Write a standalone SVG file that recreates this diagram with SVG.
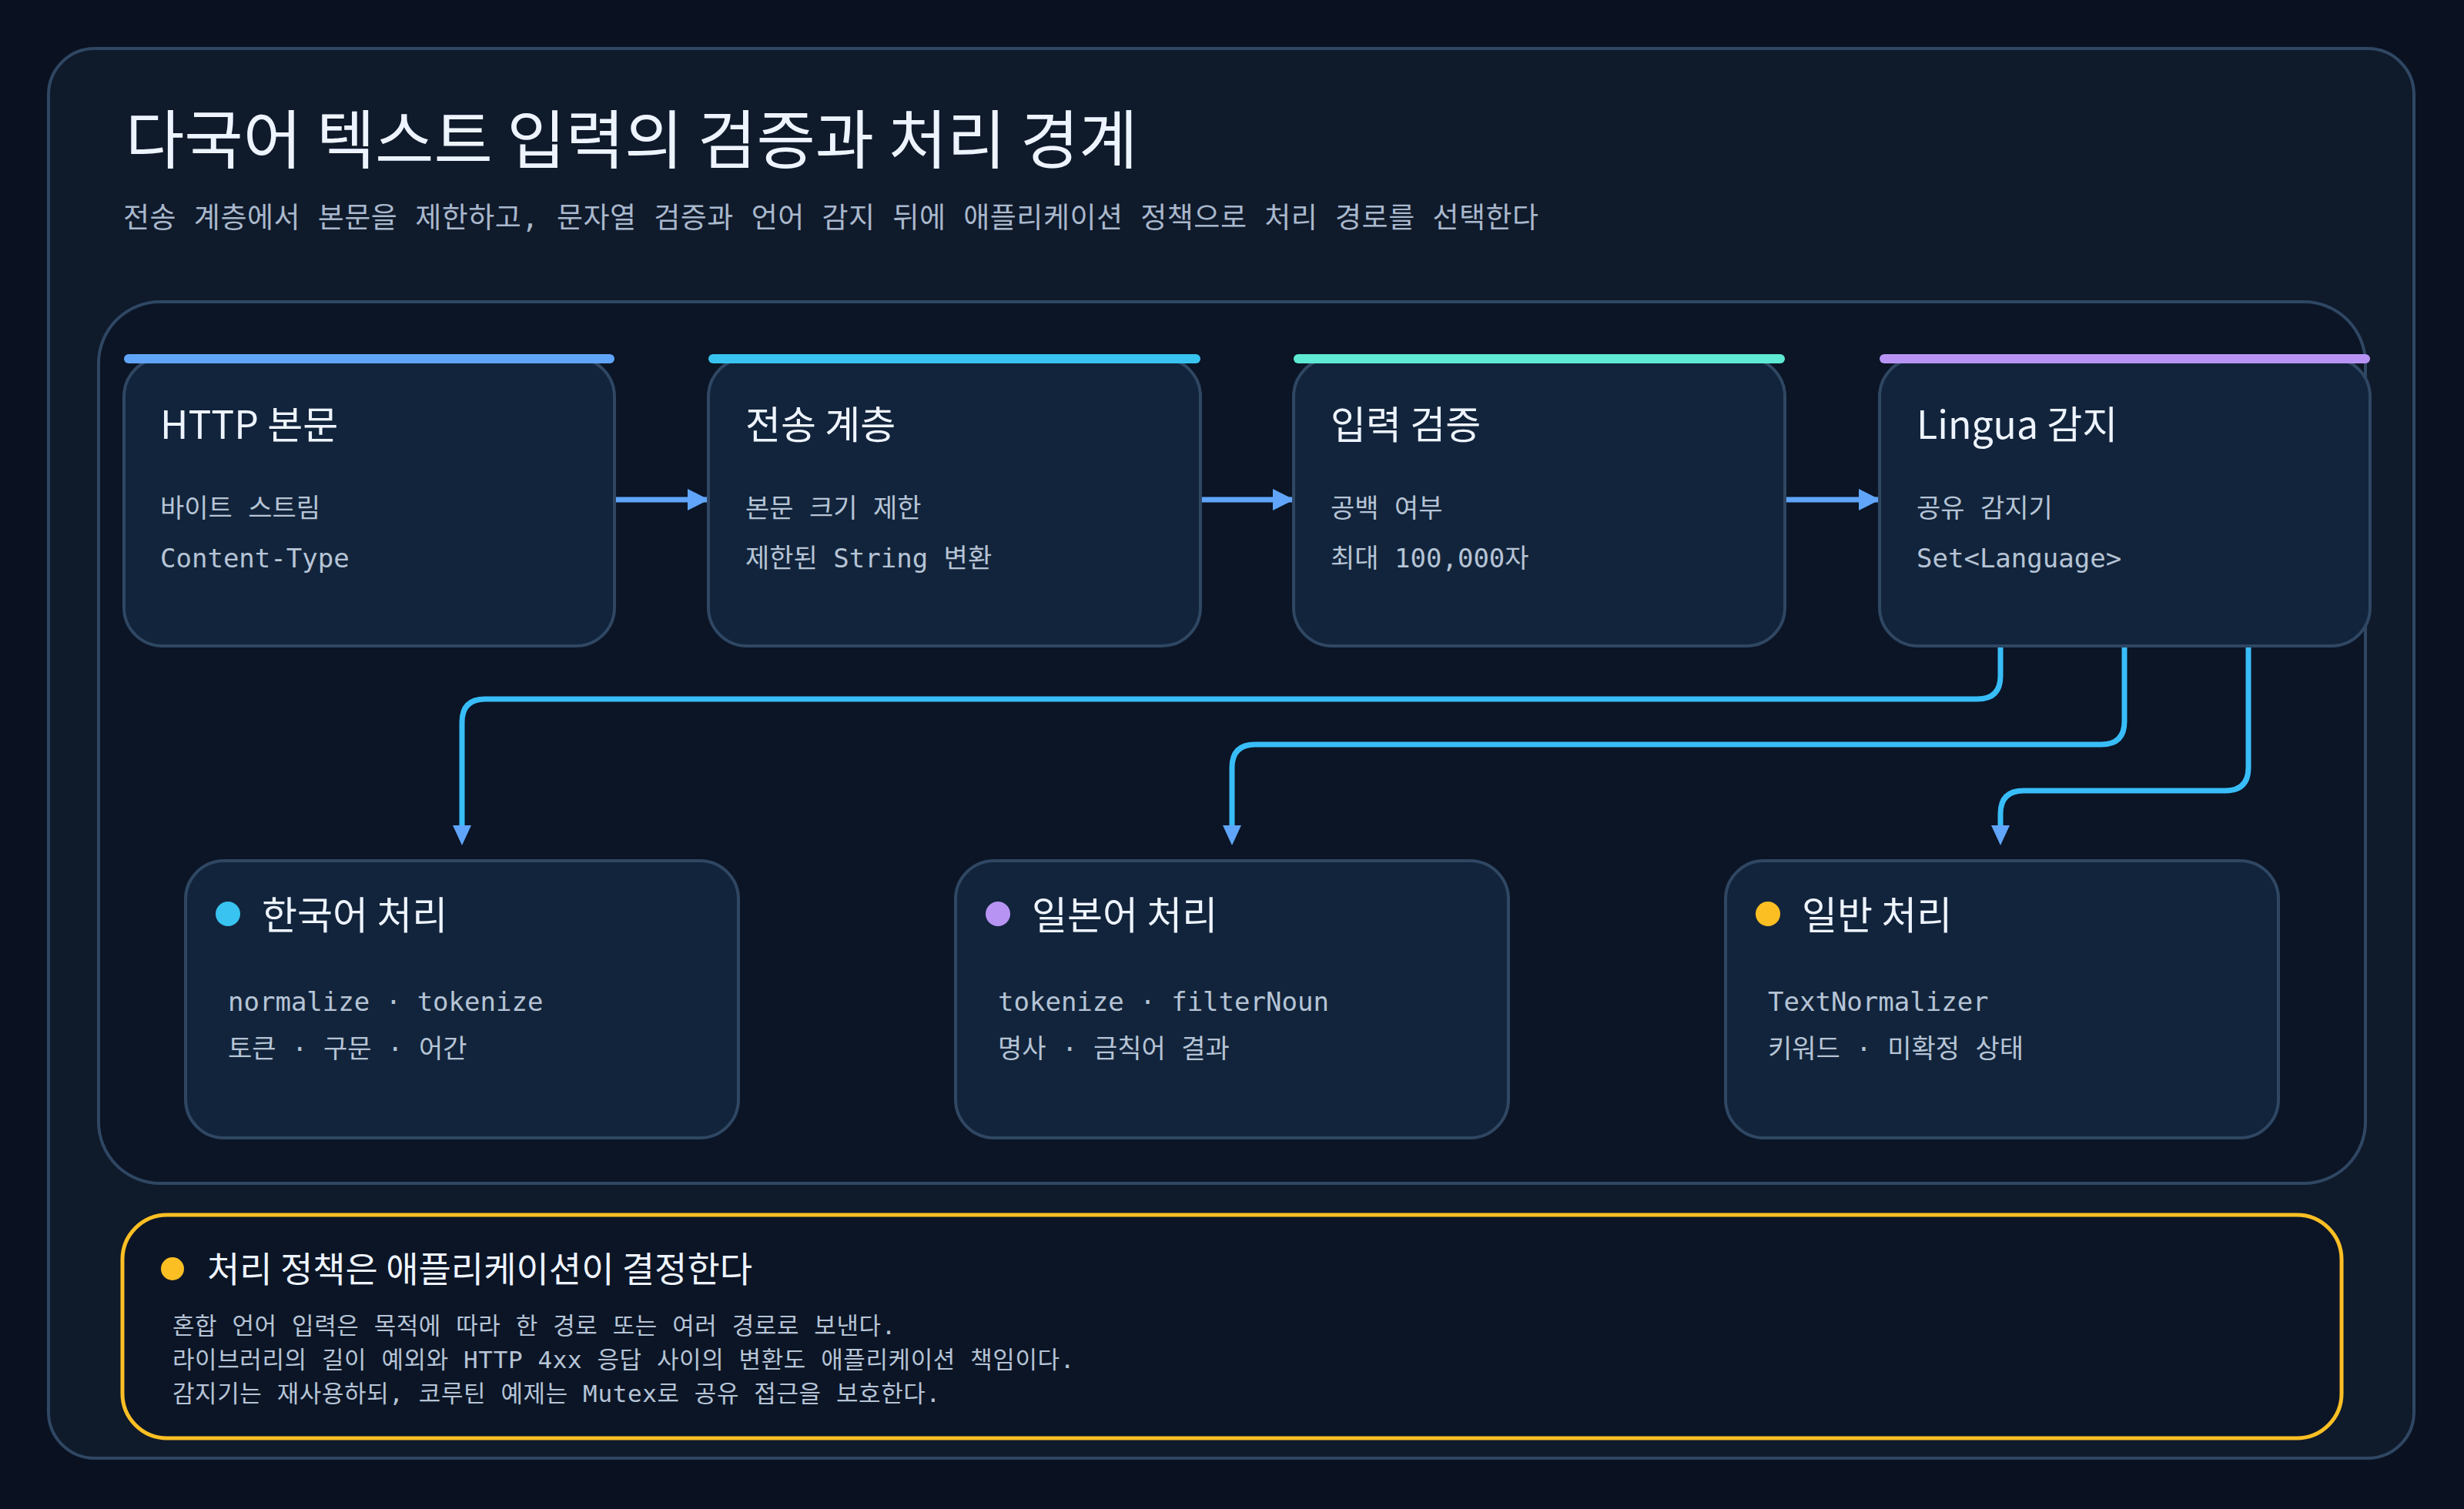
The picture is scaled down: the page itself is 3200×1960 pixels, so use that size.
<svg xmlns="http://www.w3.org/2000/svg" width="3200" height="1960" viewBox="0 0 3200 1960">
<defs>
<style>
.sans{font-family:"Noto Sans CJK KR","Noto Sans",sans-serif}
.mono{font-family:"DejaVu Sans Mono","Noto Sans CJK KR",monospace}
.card{fill:#12243b;stroke:#2f4763;stroke-width:4}
.ct{font-size:50px;fill:#eef4ff}
.cl{font-size:34px;fill:#b6c4d6}
.conn{fill:none;stroke:#38bdf8;stroke-width:7;stroke-linejoin:round}
.h{stroke:#60a5fa;stroke-width:7;fill:none}
</style>
<marker id="ah" viewBox="0 0 10 10" refX="9" refY="5" markerWidth="4" markerHeight="4" markerUnits="strokeWidth" orient="auto"><path d="M0,0 L10,5 L0,10 z" fill="#60a5fa"/></marker>
</defs>
<rect width="3200" height="1960" fill="#0a1222"/>
<rect x="63" y="63" width="3072" height="1831" rx="60" fill="#0f1a2b" stroke="#2f4763" stroke-width="4"/>
<text x="163" y="212" class="sans" font-size="83" fill="#eef4ff">다국어 텍스트 입력의 검증과 처리 경계</text>
<text x="160" y="296" class="mono" font-size="37" letter-spacing="0.5" fill="#a9b8cc">전송 계층에서 본문을 제한하고, 문자열 검증과 언어 감지 뒤에 애플리케이션 정책으로 처리 경로를 선택한다</text>
<rect x="128" y="392" width="2944" height="1145" rx="80" fill="#0b1526" stroke="#2f4763" stroke-width="4"/>

<g id="connectors">
<line class="h" x1="800" y1="649" x2="918" y2="649" marker-end="url(#ah)"/>
<line class="h" x1="1559" y1="649" x2="1678" y2="649" marker-end="url(#ah)"/>
<line class="h" x1="2318" y1="649" x2="2439" y2="649" marker-end="url(#ah)"/>
<path class="conn" d="M2598,839 V878 Q2598,908 2568,908 H630 Q600,908 600,938 V1072"/>
<path class="conn" d="M2759,839 V937 Q2759,967 2729,967 H1630 Q1600,967 1600,997 V1072"/>
<path class="conn" d="M2920,839 V997 Q2920,1027 2890,1027 H2628 Q2598,1027 2598,1057 V1072"/>
<path d="M588,1072 L612,1072 L600,1098 z" fill="#60a5fa"/>
<path d="M1588,1072 L1612,1072 L1600,1098 z" fill="#60a5fa"/>
<path d="M2586,1072 L2610,1072 L2598,1098 z" fill="#60a5fa"/>
</g>

<g id="n1"><rect class="card" x="161" y="465" width="637" height="374" rx="50"/><rect x="161" y="460" width="637" height="12" rx="6" fill="#60a5fa"/>
<text x="208" y="570" class="sans ct">HTTP 본문</text><text x="208" y="672" class="mono cl">바이트 스트림</text><text x="208" y="737" class="mono cl">Content-Type</text></g>
<g id="n2"><rect class="card" x="920" y="465" width="639" height="374" rx="50"/><rect x="920" y="460" width="639" height="12" rx="6" fill="#38c3f0"/>
<text x="968" y="570" class="sans ct">전송 계층</text><text x="968" y="672" class="mono cl">본문 크기 제한</text><text x="968" y="737" class="mono cl">제한된 String 변환</text></g>
<g id="n3"><rect class="card" x="1680" y="465" width="638" height="374" rx="50"/><rect x="1680" y="460" width="638" height="12" rx="6" fill="#5eead4"/>
<text x="1728" y="570" class="sans ct">입력 검증</text><text x="1728" y="672" class="mono cl">공백 여부</text><text x="1728" y="737" class="mono cl">최대 100,000자</text></g>
<g id="n4"><rect class="card" x="2441" y="465" width="637" height="374" rx="50"/><rect x="2441" y="460" width="637" height="12" rx="6" fill="#b794f4"/>
<text x="2489" y="570" class="sans ct">Lingua 감지</text><text x="2489" y="672" class="mono cl">공유 감지기</text><text x="2489" y="737" class="mono cl">Set&lt;Language&gt;</text></g>

<g id="k1"><rect class="card" x="241" y="1118" width="718" height="360" rx="50"/><circle cx="296" cy="1187" r="16" fill="#38c3f0"/>
<text x="340" y="1207" class="sans ct">한국어 처리</text><text x="296" y="1313" class="mono cl">normalize · tokenize</text><text x="296" y="1374" class="mono cl">토큰 · 구문 · 어간</text></g>
<g id="k2"><rect class="card" x="1241" y="1118" width="718" height="360" rx="50"/><circle cx="1296" cy="1187" r="16" fill="#b794f4"/>
<text x="1340" y="1207" class="sans ct">일본어 처리</text><text x="1296" y="1313" class="mono cl">tokenize · filterNoun</text><text x="1296" y="1374" class="mono cl">명사 · 금칙어 결과</text></g>
<g id="k3"><rect class="card" x="2241" y="1118" width="718" height="360" rx="50"/><circle cx="2296" cy="1187" r="16" fill="#fbbf24"/>
<text x="2340" y="1207" class="sans ct">일반 처리</text><text x="2296" y="1313" class="mono cl">TextNormalizer</text><text x="2296" y="1374" class="mono cl">키워드 · 미확정 상태</text></g>

<g id="callout"><rect x="159" y="1578" width="2882" height="290" rx="58" fill="#0b1526" stroke="#fbbf24" stroke-width="5"/>
<circle cx="224" cy="1648" r="15" fill="#fbbf24"/>
<text x="269" y="1665" class="sans" font-size="46" fill="#eef4ff">처리 정책은 애플리케이션이 결정한다</text>
<text x="224" y="1733" class="mono" font-size="31" letter-spacing="0.6" fill="#b6c4d6">혼합 언어 입력은 목적에 따라 한 경로 또는 여러 경로로 보낸다.</text>
<text x="224" y="1777" class="mono" font-size="31" letter-spacing="0.6" fill="#b6c4d6">라이브러리의 길이 예외와 HTTP 4xx 응답 사이의 변환도 애플리케이션 책임이다.</text>
<text x="224" y="1821" class="mono" font-size="31" letter-spacing="0.6" fill="#b6c4d6">감지기는 재사용하되, 코루틴 예제는 Mutex로 공유 접근을 보호한다.</text></g>
</svg>
